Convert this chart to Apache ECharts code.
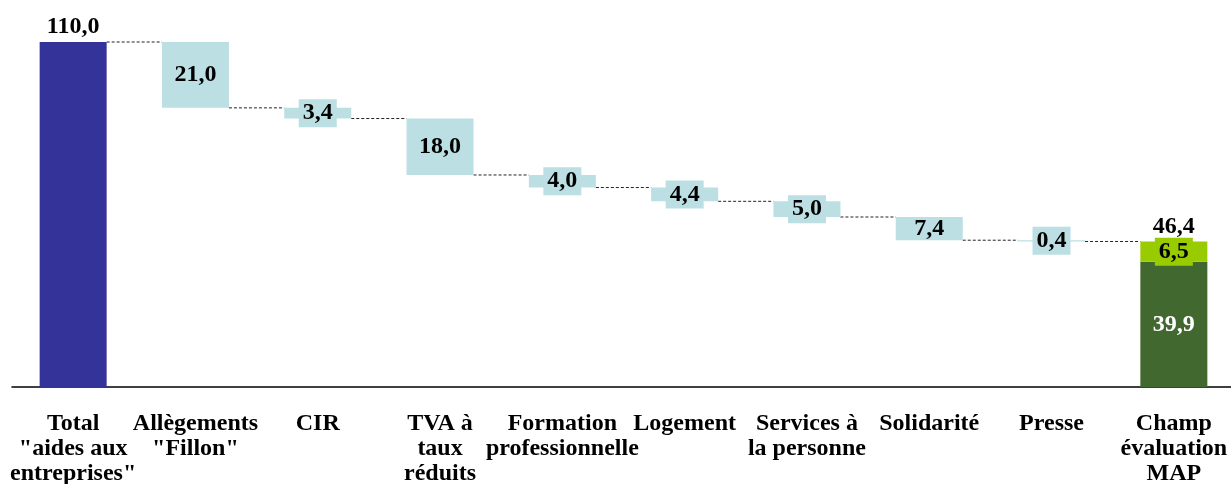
<!DOCTYPE html>
<html>
<head>
<meta charset="utf-8">
<script src="https://cdn.jsdelivr.net/npm/echarts@6/dist/echarts.min.js"></script>
<style>
  html, body { margin: 0; padding: 0; background: #fff; }
  #chart { width: 1231px; height: 484px; }
</style>
</head>
<body>
<div id="chart"></div>
<script>
// données
const categories = [
  'Total\n"aides aux\nentreprises"',
  'Allègements\n"Fillon"',
  'CIR',
  'TVA à\ntaux\nréduits',
  'Formation\nprofessionnelle',
  'Logement',
  'Services à\nla personne',
  'Solidarité',
  'Presse',
  'Champ\névaluation\nMAP'
];
const totalStart = 110.0;
const deltas = [21.0, 3.4, 18.0, 4.0, 4.4, 5.0, 7.4, 0.4];
const mapDark = 39.9;   // champ évaluation MAP
const mapLight = 6.5;

const BLUE = '#bbdfe3';
const NAVY = '#333399';
const DARK = '#41692f';
const LIGHT = '#99cc00';
const FONT = 'Liberation Serif';
const BW = 67;
const n = categories.length;

function fmt(v) { return v.toFixed(1).replace('.', ','); }

// base invisible + niveaux des pointillés
var base = [], deltaData = [], levels = [];
var running = totalStart;
base.push('-'); deltaData.push('-'); levels.push([0, running]);
deltas.forEach(function (d, i) {
  running = running - d;
  base.push(+running.toFixed(1));
  var item = { value: d };
  if (d < 7) {
    item.label = { backgroundColor: BLUE, padding: [2, 4] };
  }
  deltaData.push(item);
  levels.push([i + 1, +running.toFixed(1)]);
});
base.push('-'); deltaData.push('-');
var finalTotal = +(mapDark + mapLight).toFixed(1);

function only(idx, v) {
  var arr = [];
  for (var i = 0; i < n; i++) arr.push(i === idx ? v : '-');
  return arr;
}

var chart = echarts.init(document.getElementById('chart'));
var valueLabel = { fontFamily: FONT, fontWeight: 'bold', fontSize: 24, color: '#000' };

var option = {
  animation: false,
  grid: { left: 12, top: 42, width: 1223, bottom: 97, outerBoundsMode: 'none', containLabel: false },
  xAxis: {
    type: 'category',
    data: categories,
    axisTick: { show: false },
    axisLine: { lineStyle: { color: '#000', width: 1.5 } },
    axisLabel: {
      interval: 0,
      margin: 24,
      fontFamily: FONT,
      fontWeight: 'bold',
      fontSize: 24,
      lineHeight: 25,
      color: '#000'
    }
  },
  yAxis: { type: 'value', min: 0, max: 110, show: false, splitLine: { show: false } },
  series: [
    {
      name: 'base', type: 'bar', stack: 'w', barWidth: BW,
      itemStyle: { color: 'transparent' }, data: base, silent: true
    },
    {
      name: 'total', type: 'bar', stack: 'w', barWidth: BW,
      itemStyle: { color: NAVY }, data: only(0, totalStart)
    },
    {
      name: 'aides', type: 'bar', stack: 'w', barWidth: BW,
      itemStyle: { color: BLUE },
      label: Object.assign({ show: true, position: 'inside', formatter: function (p) { return fmt(p.value); } }, valueLabel),
      data: deltaData
    },
    {
      name: 'map', type: 'bar', stack: 'w', barWidth: BW,
      itemStyle: { color: DARK },
      label: Object.assign({}, valueLabel, { show: true, position: 'inside', color: '#fff', formatter: function (p) { return fmt(p.value); } }),
      data: only(n - 1, mapDark)
    },
    {
      name: 'map2', type: 'bar', stack: 'w', barWidth: BW,
      itemStyle: { color: LIGHT },
      label: Object.assign({}, valueLabel, { show: true, position: 'inside', backgroundColor: LIGHT, padding: [2, 4], formatter: function (p) { return fmt(p.value); } }),
      data: only(n - 1, mapLight)
    },
    {
      name: 'sommes', type: 'scatter', symbolSize: 0.1,
      itemStyle: { color: 'transparent', opacity: 1 },
      label: Object.assign({}, valueLabel, { show: true, position: 'top', distance: 3, formatter: function (p) { return fmt(p.value[1]); } }),
      data: [[0, totalStart], [n - 1, finalTotal]]
    },
    {
      name: 'liens', type: 'custom',
      renderItem: function (params, api) {
        var i = api.value(0), lv = api.value(1);
        var a = api.coord([i, lv]);
        var b = api.coord([i + 1, lv]);
        return {
          type: 'line',
          shape: { x1: a[0] + BW / 2, y1: a[1], x2: b[0] - BW / 2, y2: b[1] },
          style: { stroke: '#222', lineWidth: 1, lineDash: [3, 2] }
        };
      },
      data: levels,
      z: 1
    }
  ]
};
chart.setOption(option);
</script>
</body>
</html>
